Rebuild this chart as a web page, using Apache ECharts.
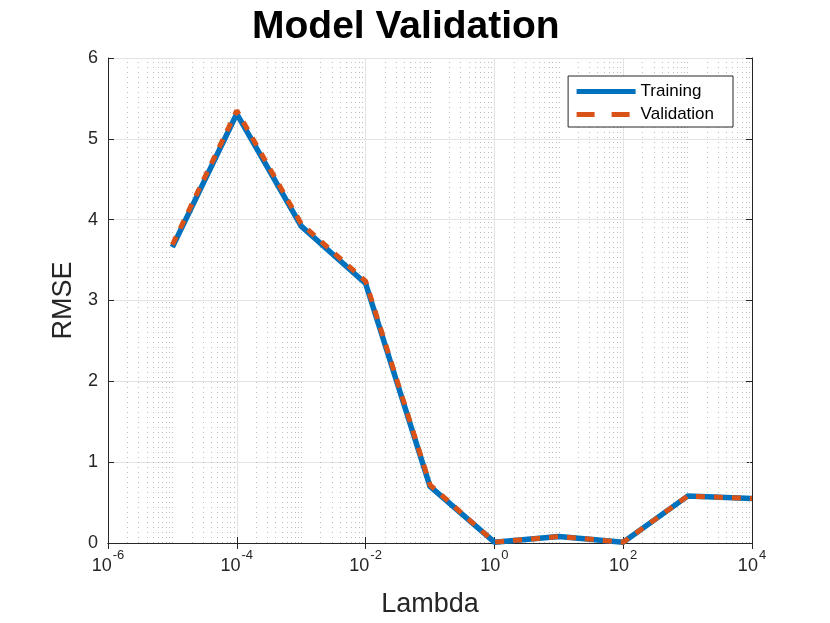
<!DOCTYPE html>
<html>
<head>
<meta charset="utf-8">
<script src="https://cdn.jsdelivr.net/npm/echarts@6/dist/echarts.min.js"></script>
<style>html,body{margin:0;padding:0;background:#fff}#c{width:830px;height:623px}</style>
</head>
<body>
<div id="c"></div>
<script>
const lambdas = [1e-5, 1e-4, 1e-3, 1e-2, 1e-1, 1, 10, 100, 1000, 10000];
const training = [3.66, 5.31, 3.92, 3.21, 0.70, 0.01, 0.08, 0.01, 0.58, 0.55];
const validation = [3.69, 5.35, 3.95, 3.24, 0.72, 0.01, 0.08, 0.01, 0.58, 0.55];
const yTicks = [0, 1, 2, 3, 4, 5, 6];
const xMin = 1e-6, xMax = 1e4;

// minor log grid positions (k * 10^n) for the dotted grid
const minorGrid = [];
for (let n = -6; n < 4; n++) {
  for (let k = 1; k <= 9; k++) {
    if (k === 1 && n % 2 === 0) continue;
    minorGrid.push(k * Math.pow(10, n));
  }
}

const txt = '#262626';
const chart = echarts.init(document.getElementById('c'), null, {renderer: 'canvas'});
const supFmt = function (v) {
  const e = Math.round(Math.log10(v));
  return '{b|10}{s|' + e + '}';
};
const rich = {
  b: {fontSize: 18, color: txt, fontFamily: 'Liberation Sans', padding: [8, 0, 0, 0]},
  s: {fontSize: 13, color: txt, fontFamily: 'Liberation Sans', verticalAlign: 'top', padding: [0, 0, 10, 1]}
};
chart.setOption({
  animation: false,
  backgroundColor: '#fff',
  title: {
    text: 'Model Validation', left: 247, top: 3,
    textStyle: {fontSize: 39, fontWeight: 'bold', color: '#000', fontFamily: 'Liberation Sans'}
  },
  legend: {
    right: 97, top: 76, orient: 'vertical', align: 'left',
    backgroundColor: '#fff', borderColor: txt, borderWidth: 1,
    padding: [7, 19, 4, 6], itemGap: 6, itemWidth: 59, itemHeight: 16,
    itemStyle: {opacity: 0},
    textStyle: {fontSize: 17, color: '#000', fontFamily: 'Liberation Sans'},
    data: [
      {name: 'Training', itemStyle: {opacity: 0}, lineStyle: {width: 5, color: '#0072BD'}},
      {name: 'Validation', itemStyle: {opacity: 0}, lineStyle: {width: 5, color: '#D95319', type: [18, 17]}}
    ]
  },
  grid: {left: 108, right: 78, top: 58, bottom: 79},
  xAxis: [{
    type: 'log', logBase: 10, min: xMin, max: xMax, interval: 2,
    name: 'Lambda', nameLocation: 'middle', nameGap: 48,
    nameTextStyle: {fontSize: 27, color: txt, fontFamily: 'Liberation Sans'},
    axisLine: {lineStyle: {color: txt, width: 1}},
    axisTick: {inside: true, length: 6, lineStyle: {color: txt}},
    axisLabel: {formatter: supFmt, rich: rich, margin: 6},
    splitLine: {show: true, lineStyle: {color: '#e3e3e3', width: 1}}
  }, {
    type: 'log', logBase: 10, min: xMin, max: xMax, interval: 2, position: 'top',
    axisLine: {lineStyle: {color: txt, width: 1}},
    axisTick: {inside: true, length: 6, lineStyle: {color: txt}},
    axisLabel: {show: false}, splitLine: {show: false}
  }],
  yAxis: [{
    type: 'value', min: yTicks[0], max: yTicks[yTicks.length - 1], interval: 1,
    name: 'RMSE', nameLocation: 'middle', nameGap: 31, nameRotate: 90,
    nameTextStyle: {fontSize: 27, color: txt, fontFamily: 'Liberation Sans'},
    axisLine: {show: true, lineStyle: {color: txt, width: 1}},
    axisTick: {show: true, inside: true, length: 6, lineStyle: {color: txt}},
    axisLabel: {fontSize: 18, color: txt, fontFamily: 'Liberation Sans', margin: 10},
    splitLine: {show: true, lineStyle: {color: '#e3e3e3', width: 1}}
  }, {
    type: 'value', min: yTicks[0], max: yTicks[yTicks.length - 1], interval: 1, position: 'right',
    axisLine: {show: true, lineStyle: {color: txt, width: 1}},
    axisTick: {show: true, inside: true, length: 6, lineStyle: {color: txt}},
    axisLabel: {show: false}, splitLine: {show: false}
  }],
  series: [{
    name: 'Training', type: 'line', symbol: 'none',
    data: lambdas.map((x, i) => [x, training[i]]),
    lineStyle: {color: '#0072BD', width: 5.5},
    itemStyle: {color: '#0072BD'},
    z: 3,
    markLine: {
      silent: true, symbol: ['none', 'none'], label: {show: false}, precision: 12,
      lineStyle: {type: [1, 4], color: '#bdbdbd', width: 1},
      data: minorGrid.map(v => ({xAxis: v})),
      z: 1
    }
  }, {
    name: 'Validation', type: 'line', symbol: 'none',
    data: lambdas.map((x, i) => [x, validation[i]]),
    lineStyle: {color: '#D95319', width: 5, type: [9, 9]},
    itemStyle: {color: '#D95319'},
    z: 4
  }]
});
</script>
</body>
</html>
